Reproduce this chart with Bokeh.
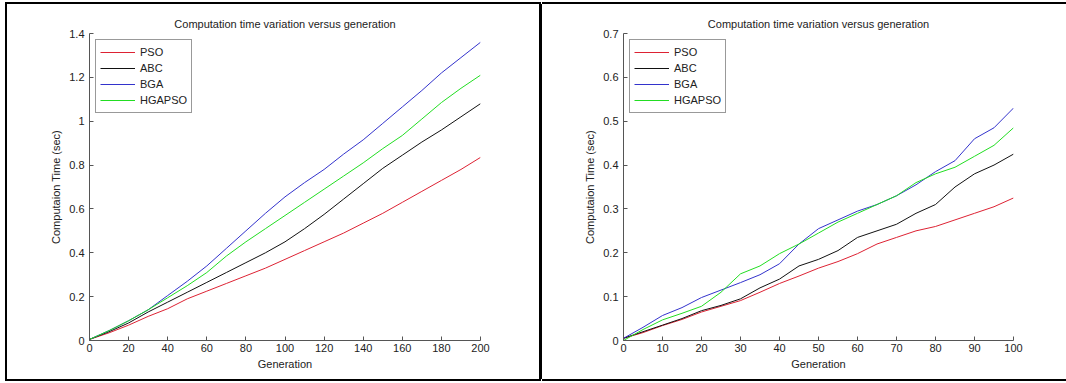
from bokeh.plotting import figure
from bokeh.layouts import row, column
from bokeh.models import Range1d, FixedTicker, CustomJSTickFormatter, Legend, LegendItem, Spacer
from bokeh.embed import file_html
from bokeh.resources import INLINE

# ---------------- data ----------------
title_text = "Computation time variation versus generation"
x_label = "Generation"
y_label = "Computaion Time (sec)"
series_names = ["PSO", "ABC", "BGA", "HGAPSO"]

gen_left = [0, 10, 20, 30, 40, 50, 60, 70, 80, 90, 100,
            110, 120, 130, 140, 150, 160, 170, 180, 190, 200]
pso_left = [0.005, 0.035, 0.07, 0.11, 0.145, 0.19, 0.225, 0.26, 0.295, 0.33, 0.37,
            0.41, 0.45, 0.49, 0.535, 0.58, 0.63, 0.68, 0.73, 0.78, 0.835]
abc_left = [0.005, 0.04, 0.08, 0.13, 0.175, 0.22, 0.265, 0.31, 0.355, 0.40, 0.45,
            0.51, 0.575, 0.645, 0.715, 0.785, 0.845, 0.905, 0.96, 1.02, 1.08]
bga_left = [0.005, 0.045, 0.09, 0.14, 0.205, 0.27, 0.34, 0.42, 0.50, 0.58, 0.655,
            0.72, 0.78, 0.85, 0.915, 0.99, 1.065, 1.14, 1.22, 1.29, 1.36]
hga_left = [0.005, 0.045, 0.09, 0.14, 0.195, 0.25, 0.31, 0.385, 0.45, 0.51, 0.57,
            0.63, 0.69, 0.75, 0.81, 0.875, 0.935, 1.01, 1.085, 1.15, 1.21]

gen_right = [0, 5, 10, 15, 20, 25, 30, 35, 40, 45, 50,
             55, 60, 65, 70, 75, 80, 85, 90, 95, 100]
pso_right = [0.005, 0.018, 0.034, 0.048, 0.065, 0.078, 0.091, 0.11, 0.13, 0.147, 0.165,
             0.18, 0.198, 0.22, 0.235, 0.25, 0.26, 0.275, 0.29, 0.305, 0.325]
abc_right = [0.005, 0.02, 0.035, 0.05, 0.068, 0.08, 0.095, 0.12, 0.14, 0.17, 0.185,
             0.205, 0.235, 0.25, 0.265, 0.29, 0.31, 0.35, 0.38, 0.40, 0.425]
bga_right = [0.005, 0.03, 0.057, 0.075, 0.098, 0.115, 0.132, 0.15, 0.175, 0.22, 0.255,
             0.275, 0.295, 0.31, 0.33, 0.355, 0.385, 0.41, 0.46, 0.485, 0.53]
hga_right = [0.0, 0.025, 0.047, 0.062, 0.078, 0.11, 0.152, 0.17, 0.198, 0.22, 0.245,
             0.27, 0.29, 0.31, 0.33, 0.36, 0.38, 0.395, 0.42, 0.445, 0.485]

xticks_left = [0, 20, 40, 60, 80, 100, 120, 140, 160, 180, 200]
yticks_left = [0, 0.2, 0.4, 0.6, 0.8, 1.0, 1.2, 1.4]
xticks_right = [0, 10, 20, 30, 40, 50, 60, 70, 80, 90, 100]
yticks_right = [0, 0.1, 0.2, 0.3, 0.4, 0.5, 0.6, 0.7]

colors = ["#dd2233", "#111111", "#3333cc", "#22dd22"]

FONT = "Liberation Sans"
TXT = "#222222"
AX = "#555555"


def make_panel(gen, ys, xticks, yticks, xmax, ymax, width, mbl, mbr, styles):
    p = figure(width=width, height=375,
               x_range=Range1d(0, xmax), y_range=Range1d(0, ymax),
               output_backend="svg", toolbar_location=None,
               min_border_left=mbl, min_border_right=mbr,
               min_border_top=29, min_border_bottom=39,
               title=title_text)
    p.styles = styles
    p.background_fill_color = "white"
    p.border_fill_color = "white"
    p.outline_line_color = None
    p.grid.visible = False
    p.title.align = "center"
    p.title.text_font = FONT
    p.title.text_font_size = "11px"
    p.title.text_font_style = "normal"
    p.title.text_color = TXT
    p.title.standoff = 7

    for ax in (p.xaxis[0], p.yaxis[0]):
        ax.axis_line_color = AX
        ax.major_tick_line_color = AX
        ax.major_tick_in = 4
        ax.major_tick_out = 0
        ax.minor_tick_line_color = None
        ax.major_label_text_font = FONT
        ax.major_label_text_font_size = "11px"
        ax.major_label_text_color = TXT
        ax.axis_label_text_font = FONT
        ax.axis_label_text_font_size = "11px"
        ax.axis_label_text_font_style = "normal"
        ax.axis_label_text_color = TXT
        ax.formatter = CustomJSTickFormatter(code="return Number(tick.toFixed(2)).toString();")

    p.xaxis[0].ticker = FixedTicker(ticks=xticks)
    p.yaxis[0].ticker = FixedTicker(ticks=yticks)
    p.xaxis[0].axis_label = x_label
    p.yaxis[0].axis_label = y_label
    p.xaxis[0].major_label_standoff = 3
    p.xaxis[0].axis_label_standoff = 3
    p.yaxis[0].major_label_standoff = 5
    p.yaxis[0].axis_label_standoff = 4

    items = []
    for name, y, c in zip(series_names, ys, colors):
        r = p.line(gen, y, line_color=c, line_width=1)
        items.append(LegendItem(label=name, renderers=[r]))
    leg = Legend(items=items, location="top_left", margin=6, padding=4,
                 spacing=0, glyph_width=35, glyph_height=16, label_height=16,
                 label_standoff=5, label_text_font=FONT, label_text_font_size="11px",
                 label_text_color=TXT, border_line_color="#333333", border_line_width=1,
                 background_fill_color="white", background_fill_alpha=1.0)
    p.add_layout(leg)
    return p


p1 = make_panel(gen_left, [pso_left, abc_left, bga_left, hga_left],
                xticks_left, yticks_left, 200, 1.4, 532, 82, 59,
                {"box-shadow": "0 0 0 2px black, 3px 0 0 0 black"})
p2 = make_panel(gen_right, [pso_right, abc_right, bga_right, hga_right],
                xticks_right, yticks_right, 100, 0.7, 524, 81, 53,
                {"box-shadow": "0 -2px 0 0 black, 0 2px 0 0 black"})

layout = column(Spacer(width=1066, height=4),
                row(Spacer(width=7, height=375), p1, Spacer(width=3, height=375), p2, spacing=0),
                spacing=0)
open("out.html", "w").write(file_html(layout, INLINE))
